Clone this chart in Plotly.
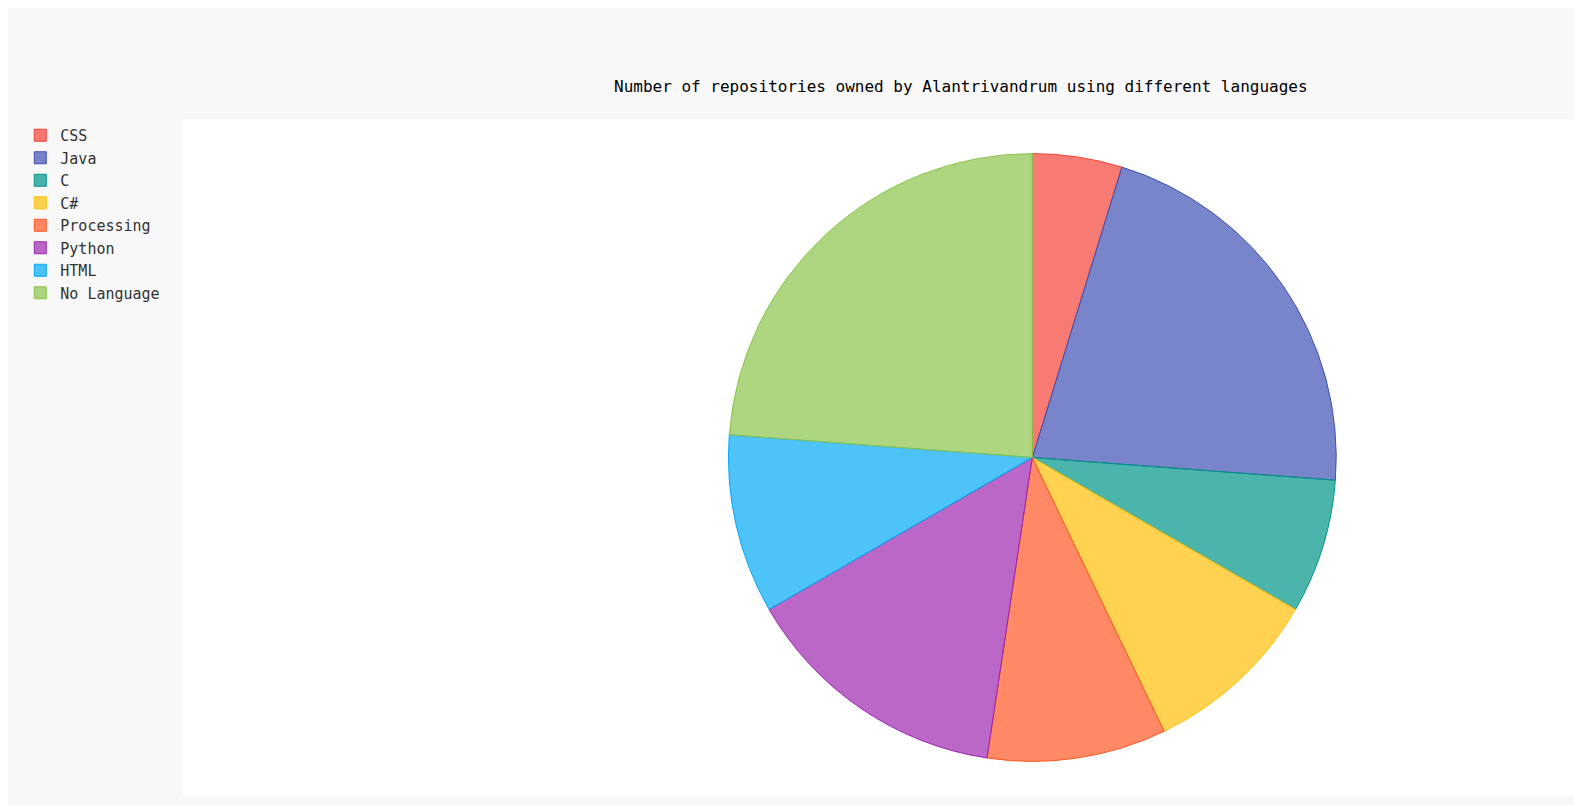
import plotly.graph_objects as go

languages = ["CSS", "Java", "C", "C#", "Processing", "Python", "HTML", "No Language"]
counts = [2, 9, 3, 4, 4, 6, 4, 10]
base_colors = ["244,67,54", "63,81,181", "0,150,136", "255,193,7", "255,87,34", "156,39,176", "3,169,244", "139,195,74"]

fig = go.Figure(go.Pie(
    labels=languages, values=counts, sort=False, direction="clockwise", rotation=0,
    marker=dict(colors=[f"rgba({c},0.7)" for c in base_colors],
                line=dict(color=[f"rgb({c})" for c in base_colors], width=1)),
    textinfo="none", hoverinfo="label+value",
    domain=dict(x=[0.392, 0.828], y=[0.05, 0.95]),
))
fig.update_layout(
    width=1582, height=805, paper_bgcolor="#f8f8f8",
    margin=dict(l=170, r=14, t=111, b=17),
    font=dict(family="DejaVu Sans Mono", color="#000"),
    shapes=[dict(type="rect", xref="paper", yref="paper", x0=0, x1=1, y0=0, y1=1,
                 fillcolor="white", line_width=0, layer="below")],
    annotations=[dict(text="Number of repositories owned by Alantrivandrum using different languages",
                      xref="paper", yref="paper", x=0.559, y=1, yshift=33, showarrow=False,
                      xanchor="center", yanchor="middle", font=dict(size=16))],
    legend=dict(x=-0.116, y=1.0, xanchor="left", yanchor="top", font=dict(size=15, color="#333"),
                bgcolor="rgba(0,0,0,0)", traceorder="normal"),
)
fig.write_html("out.html")
